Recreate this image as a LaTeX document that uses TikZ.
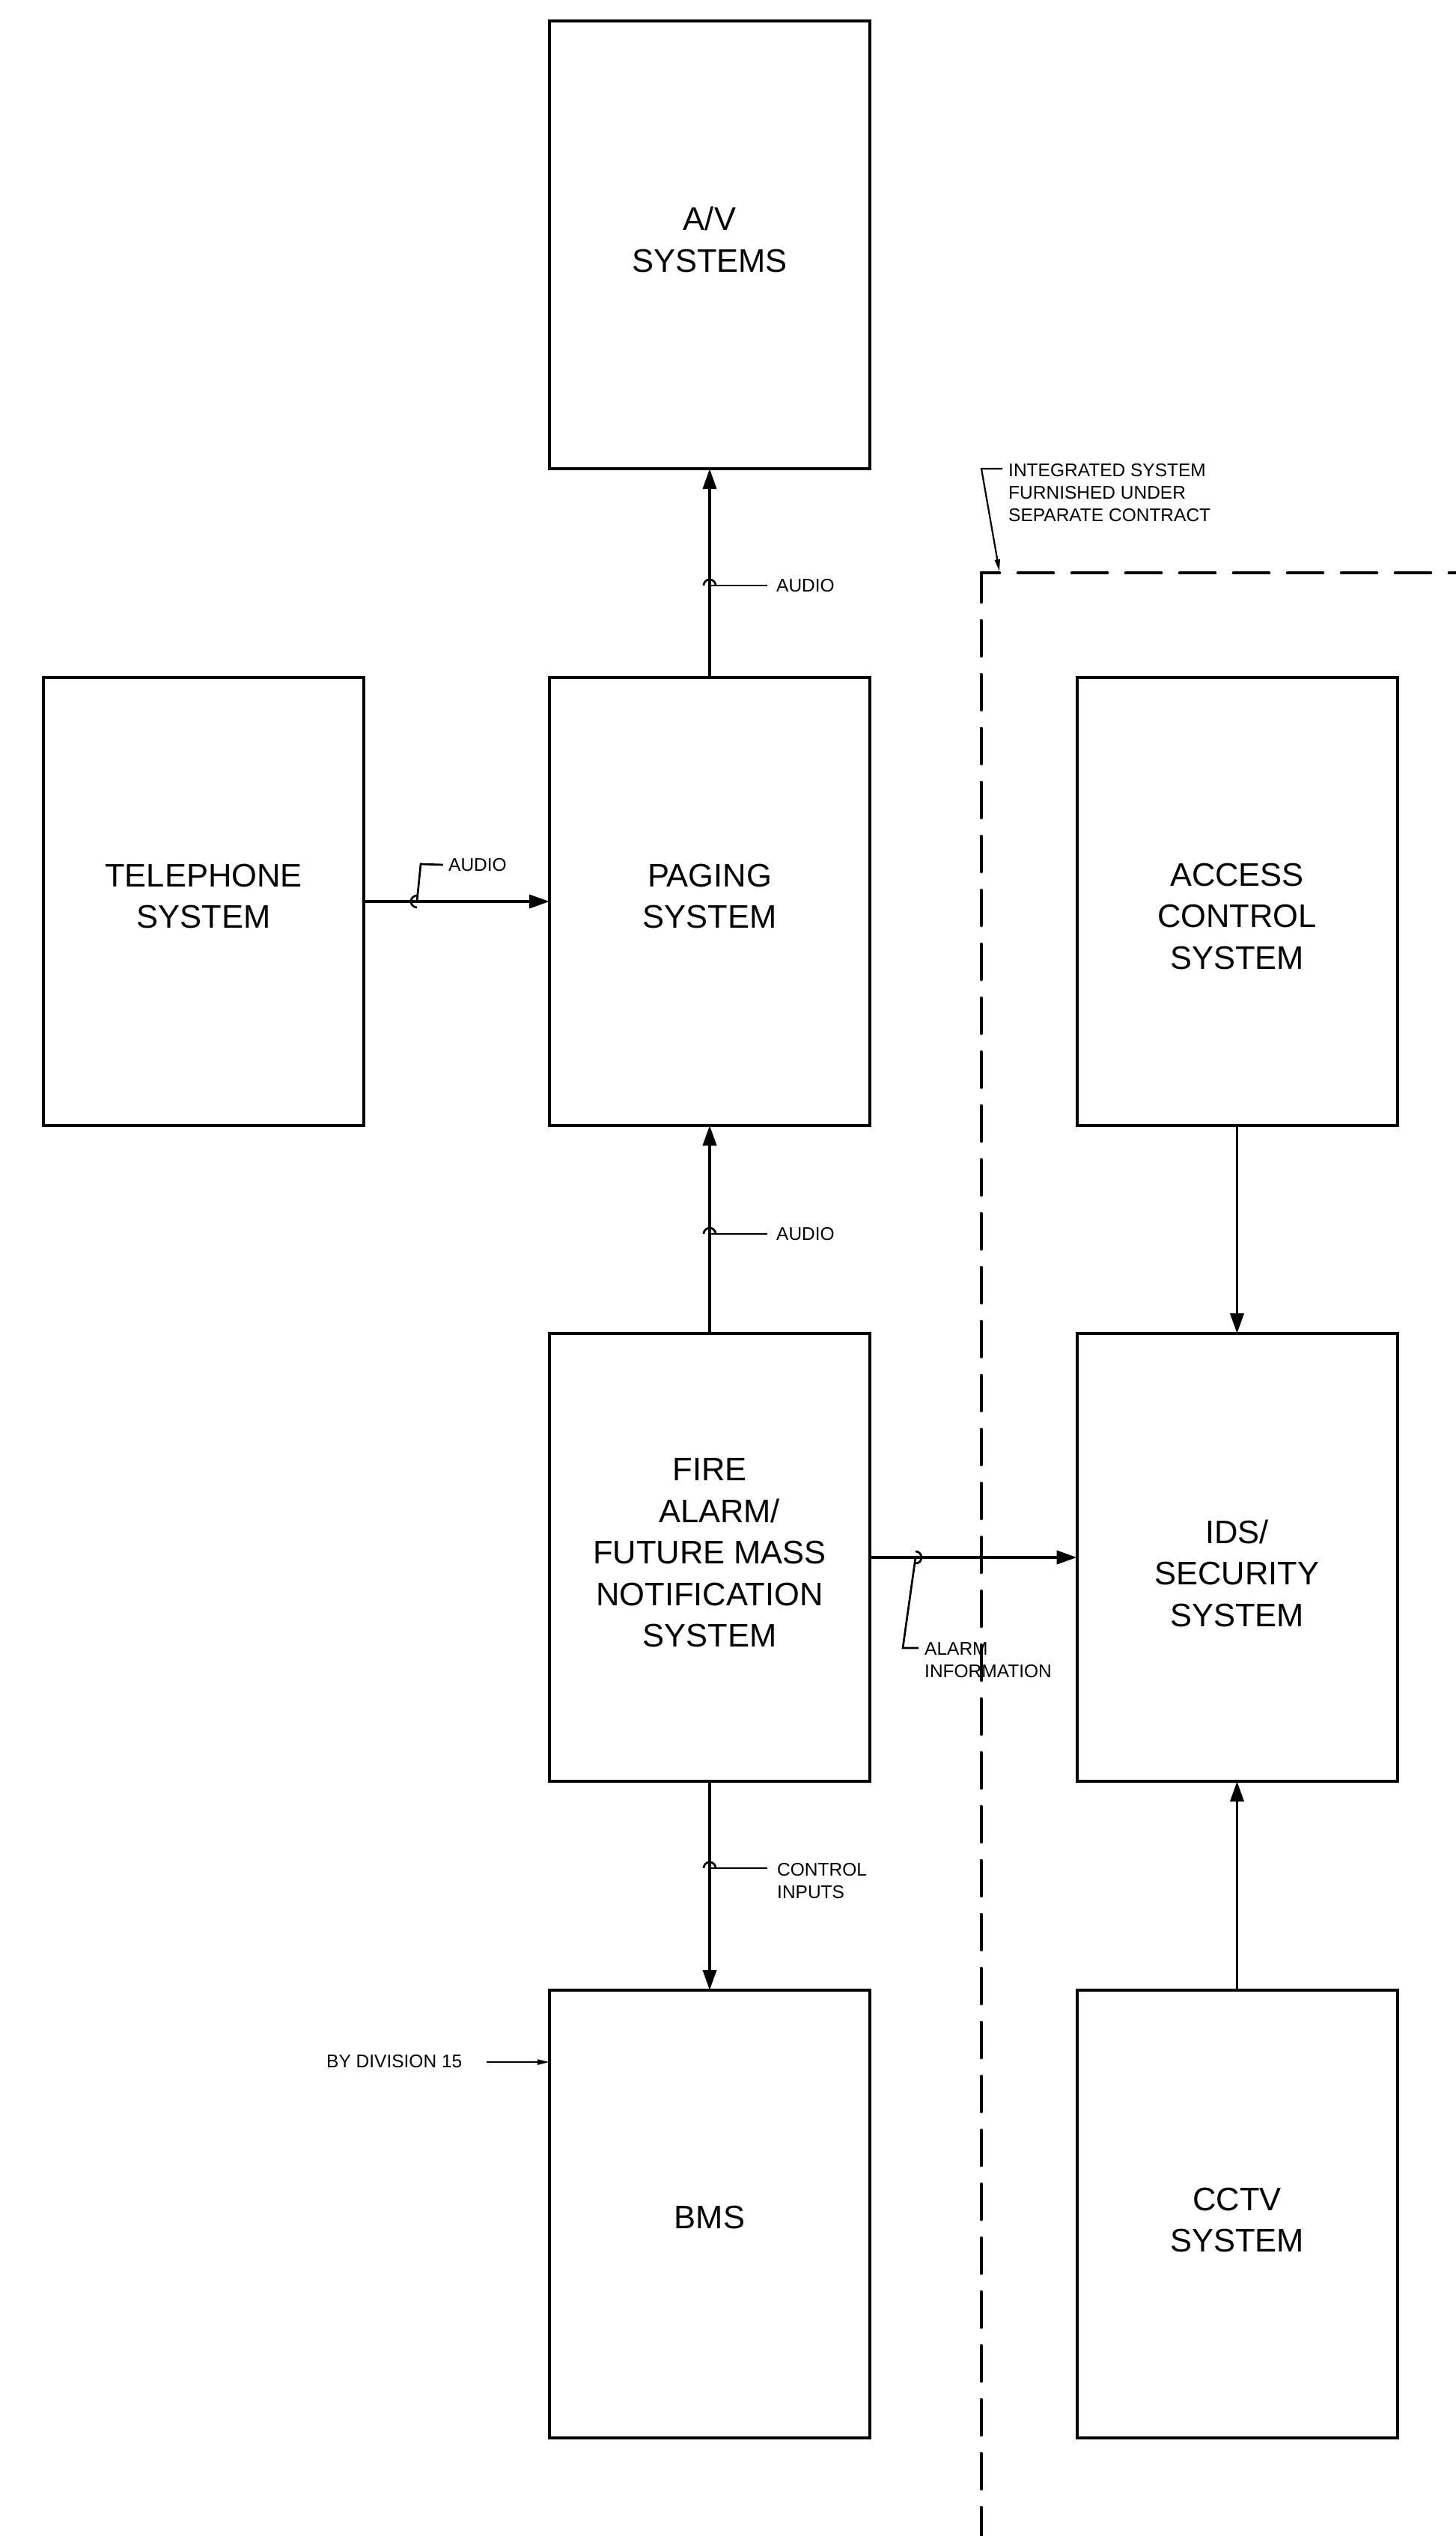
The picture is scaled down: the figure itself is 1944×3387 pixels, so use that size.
\documentclass[tikz,border=0pt]{standalone}
\usepackage{fontspec}
\setmainfont{Liberation Sans}
\usetikzlibrary{arrows.meta}
\tikzset{
 sysbox/.style={draw, line width=4pt, minimum width=428pt, minimum height=598pt, inner sep=0pt, outer sep=0pt},
 boxtext/.style={font=\fontsize{43.5}{55.5}\selectfont, align=center, inner sep=0pt},
 lbl/.style={font=\fontsize{24.5}{30}\selectfont, align=left, anchor=west, inner sep=0pt},
 flow/.style={line width=3.7pt, -{Triangle[length=27pt,width=18pt]}},
 leader/.style={line width=2.7pt},
 smallarr/.style={line width=2.2pt, -{Triangle[length=16pt,width=7pt]}},
 boundary/.style={line width=4.5pt, line cap=round, dash pattern=on 47pt off 25pt},
}
\begin{document}
\begin{tikzpicture}[x=1pt,y=-1pt]
\fill[white] (0,0) rectangle (1944,3387);
\useasboundingbox (0,0) rectangle (1944,3387);

% boxes
\node[sysbox] (av) at (948,327) {};
\node[sysbox] (tel) at (272,1204) {};
\node[sysbox] (pag) at (948,1204) {};
\node[sysbox] (acc) at (1652.5,1204) {};
\node[sysbox] (fire) at (948,2080) {};
\node[sysbox] (ids) at (1652.5,2080) {};
\node[sysbox] (bms) at (948,2957) {};
\node[sysbox] (cctv) at (1652.5,2957) {};

% box texts
\node[boxtext] (avt) at (948,320) {A/V\\SYSTEMS};
\node[boxtext] (telt) at (272,1197) {TELEPHONE\\SYSTEM};
\node[boxtext] (pagt) at (948,1197) {PAGING\\SYSTEM};
\node[boxtext] (acct) at (1652.5,1224) {ACCESS\\CONTROL\\SYSTEM};
\node[boxtext] (firet) at (948,2074) {FIRE\\\hspace*{26pt}ALARM/\\FUTURE MASS\\NOTIFICATION\\SYSTEM};
\node[boxtext] (idst) at (1652.5,2101) {IDS/\\SECURITY\\SYSTEM};
\node[boxtext] (bmst) at (948,2961) {BMS};
\node[boxtext] (cctvt) at (1652.5,2965) {CCTV\\SYSTEM};

% flows
\draw[flow] (pag.north) -- (av.south);
\draw[flow] (tel.east) -- (pag.west);
\draw[flow] (fire.north) -- (pag.south);
\draw[flow] (fire.south) -- (bms.north);
\draw[flow] (fire.east) -- (ids.west);
\draw[flow] (acc.south) -- (ids.north);
\draw[flow] (cctv.north) -- (ids.south);

% separate contract boundary
\coordinate (bcorner) at (1311,765);
\coordinate (bright) at (1944,765);
\coordinate (bbottom) at (1311,3387);
\draw[boundary, dash phase=23pt] (bcorner) -- (bright);
\draw[boundary, dash phase=8pt] (bcorner) -- (bbottom);

% labels
\node[lbl] (aud1) at (1037,782) {AUDIO};
\node[lbl] (aud2) at (1037,1648) {AUDIO};
\node[lbl] (aud3) at (599,1155) {AUDIO};
\node[lbl] (ctl) at (1038,2512) {CONTROL\\INPUTS};
\node[lbl] (alm) at (1235,2217.5) {ALARM\\INFORMATION};
\node[lbl] (intl) at (1347,658.5) {INTEGRATED SYSTEM\\FURNISHED UNDER\\SEPARATE CONTRACT};
\node[lbl] (bydiv) at (436,2753) {BY DIVISION 15};

% leader markers
\coordinate (m1) at (948,782);
\draw[leader] ([xshift=-8pt]m1) arc[start angle=180,end angle=0,radius=8pt];
\draw[leader] (m1) -- ([xshift=-12pt]aud1.west);

\coordinate (m2) at (948,1648);
\draw[leader] ([xshift=-8pt]m2) arc[start angle=180,end angle=0,radius=8pt];
\draw[leader] (m2) -- ([xshift=-12pt]aud2.west);

\coordinate (m3) at (948,2495);
\draw[leader] ([xshift=-8pt]m3) arc[start angle=180,end angle=0,radius=8pt];
\draw[leader] (m3) -- (1025,2495);

\coordinate (m4) at (557,1204);
\coordinate (k4) at (562,1154);
\draw[leader] ([yshift=8pt]m4) arc[start angle=90,end angle=270,radius=8pt];
\draw[leader] (m4) -- (k4) -- ([xshift=-7pt]aud3.west);

\coordinate (m5) at (1223,2080);
\coordinate (k5) at (1206,2201);
\draw[leader] ([yshift=8pt]m5) arc[start angle=90,end angle=-90,radius=8pt];
\draw[leader] (m5) -- (k5) -- (1227,2201);

% integrated system pointer
\coordinate (ik) at (1311,626);
\coordinate (itip) at (1335,763);
\draw[smallarr] (1339,626) -- (ik) -- (itip);

% by division pointer
\coordinate (bystart) at (650,2754);
\draw[smallarr] (bystart) -- (bystart -| bms.west);
\end{tikzpicture}
\end{document}
